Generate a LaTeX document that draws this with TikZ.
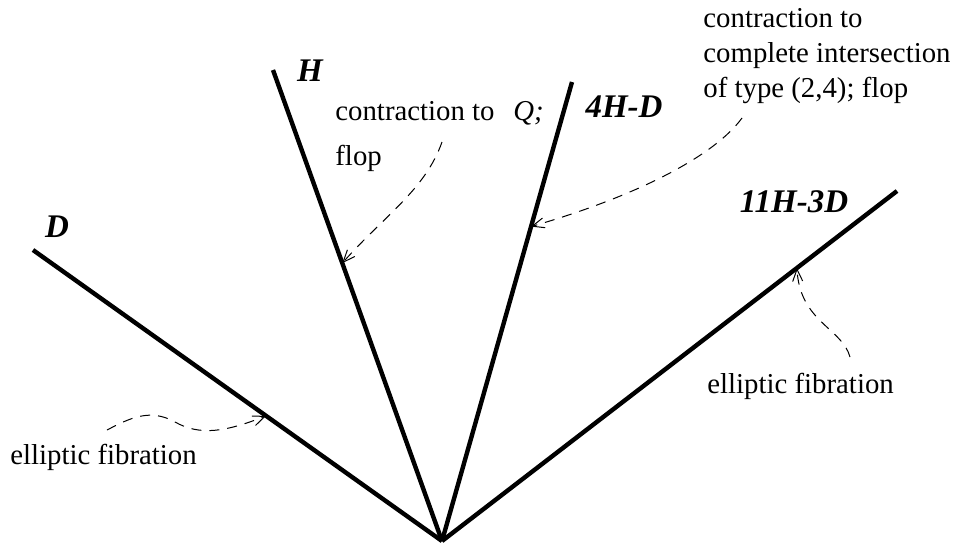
\documentclass[tikz,border=0pt]{standalone}
\usepackage{fontspec}
\setmainfont{Liberation Serif}
\usetikzlibrary{arrows.meta}

\begin{document}
\begin{tikzpicture}[
  x=0.5pt, y=-0.5pt,
  font=\fontsize{14.4}{17.5}\selectfont,
  ray/.style={line width=2.2pt},
  raylabel/.style={font=\fontsize{16.5}{18}\selectfont\bfseries\itshape, inner sep=0pt},
  note/.style={align=left, inner sep=0pt},
  hint/.style={dash pattern=on 5pt off 4pt, line width=0.5pt, -{Straight Barb[length=6pt, width=5pt]}}
]
\useasboundingbox (0,0) rectangle (957,543);

\coordinate (O) at (442,541);
\coordinate (D) at (33,250);
\coordinate (H) at (273,70);
\coordinate (F) at (572,82);
\coordinate (E) at (897,191);

\draw[ray] (O) -- (D);
\draw[ray] (O) -- (H);
\draw[ray] (O) -- (F);
\draw[ray] (O) -- (E);

\path (O) -- (D) coordinate[pos=0.43] (onD);
\path (O) -- (H) coordinate[pos=0.59] (onH);
\path (O) -- (F) coordinate[pos=0.685] (onF);
\path (O) -- (E) coordinate[pos=0.78] (onE);

\node[raylabel] (labD) at (57,227) {D};
\node[raylabel] (labH) at (310,71) {H};
\node[raylabel] (labF) at (624,107) {4H-D};
\node[raylabel] (labE) at (794,202) {11H-3D};

\node[note, anchor=base west] (contr) at (335,120) {contraction to};
\node[note, anchor=base west] (q) at (513,120) {\textit{Q;}};
\node[note, anchor=base west] (flop) at (335,165) {flop};
% base of a multi-line node is its last line
\node[note, anchor=base west] (ci) at (703,97) {contraction to\\complete intersection\\of type (2,4); flop};
\node[note, anchor=base west] (ellL) at (10,464) {elliptic fibration};
\node[note, anchor=base west] (ellR) at (707,393) {elliptic fibration};

\coordinate (s1) at (442,142);
\coordinate (s2) at (742,118);
\coordinate (s3) at (107,430);
\coordinate (s4) at (850,357);

\draw[hint] (s1) .. controls (425,190) and (385,215) .. (onH);
\draw[hint] (s2) .. controls (715,155) and (640,195) .. (onF);
\draw[hint] (s3) .. controls (130,418) and (150,408) .. (175,422) .. controls (200,436) and (225,432) .. (onD);
\draw[hint] (s4) .. controls (842,328) and (800,322) .. (onE);

\end{tikzpicture}
\end{document}
